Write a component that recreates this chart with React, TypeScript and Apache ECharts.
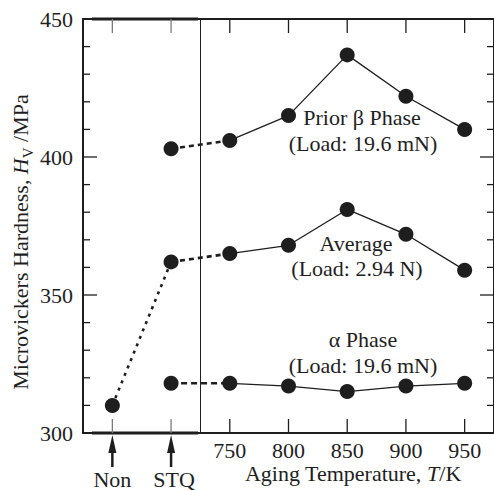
import React, { useEffect, useRef } from "react";
import * as echarts from "echarts";

const categories = ["Non", "STQ", "750", "800", "850", "900", "950"];
const betaPhase: (number | null)[] = [null, 403, 406, 415, 437, 422, 410];
const average: (number | null)[] = [310, 362, 365, 368, 381, 372, 359];
const alphaPhase: (number | null)[] = [null, 318, 318, 317, 315, 317, 318];
const arrowCategories = [0, 1];
const yMin = 300;
const yMax = 450;
const yInterval = 50;
const yMinorStep = 10;

const FONT = '"Liberation Serif", "Times New Roman", serif';
const INK = "#1e1e1e";

function segment(arr: (number | null)[], from: number, to: number) {
  return arr.map((v, i) => (i >= from && i <= to ? v : null));
}

const yTickValues: number[] = [];
for (let v = yMin; v <= yMax; v += yMinorStep) yTickValues.push(v);

export default function App() {
  const ref = useRef<HTMLDivElement>(null);
  useEffect(() => {
    if (!ref.current) return;
    const chart = echarts.init(ref.current, undefined, { renderer: "svg" });

    const solid = (arr: (number | null)[]) => ({
      type: "line",
      data: segment(arr, 2, 6),
      symbol: "none",
      lineStyle: { color: INK, width: 1.3 },
      z: 3,
    });
    const dashed = (arr: (number | null)[], from: number, to: number, dash: number[]) => ({
      type: "line",
      data: segment(arr, from, to),
      symbol: "none",
      lineStyle: { color: INK, width: 2.6, type: dash },
      z: 3,
    });
    const dots = (arr: (number | null)[]) => ({
      type: "scatter",
      data: arr.map((v) => (v === null ? "-" : v)),
      symbol: "circle",
      symbolSize: 15,
      itemStyle: { color: INK, opacity: 1 },
      z: 5,
    });

    const textStyle = (text: string, x: number, y: number) => ({
      type: "text",
      x,
      y,
      style: {
        text,
        fill: INK,
        font: `22px ${FONT}`,
        align: "center",
        verticalAlign: "middle",
      },
      z: 20,
    });

    const baseGraphic: any[] = [
      { type: "rect", shape: { x: 92, y: 17.5, width: 106, height: 3 }, style: { fill: INK }, z: 15 },
      { type: "rect", shape: { x: 92, y: 431.5, width: 106, height: 3 }, style: { fill: INK }, z: 15 },
      textStyle("Prior β Phase", 362, 117),
      textStyle("(Load: 19.6 mN)", 363, 143),
      textStyle("Average", 356, 243),
      textStyle("(Load: 2.94 N)", 357, 268),
      textStyle("α Phase", 363, 339),
      textStyle("(Load: 19.6 mN)", 363, 365),
      {
        type: "text",
        x: 353,
        y: 473,
        style: {
          text: "Aging Temperature, {i|T}/K",
          fill: INK,
          font: `22px ${FONT}`,
          align: "center",
          verticalAlign: "middle",
          rich: {
            i: { fontFamily: FONT, fontSize: 22, fontStyle: "italic", fill: INK },
          },
        },
        z: 20,
      },
      {
        type: "text",
        x: 20,
        y: 242,
        rotation: Math.PI / 2,
        style: {
          text: "Microvickers Hardness, {i|H}{s|V}{n| /MPa}",
          fill: INK,
          font: `22px ${FONT}`,
          align: "center",
          verticalAlign: "middle",
          rich: {
            i: { fontFamily: FONT, fontSize: 22, fontStyle: "italic", fill: INK, lineHeight: 30 },
            s: { fontFamily: FONT, fontSize: 15, fill: INK, verticalAlign: "bottom", lineHeight: 15 },
            n: { fontFamily: FONT, fontSize: 22, fill: INK, lineHeight: 30 },
          },
        },
        z: 20,
      },
    ];

    chart.setOption({
      animation: false,
      grid: { left: 83, top: 19, width: 412, height: 414, containLabel: false },
      xAxis: [
        {
          type: "category",
          data: categories,
          position: "bottom",
          boundaryGap: true,
          axisLine: { show: true, lineStyle: { color: INK, width: 2 } },
          axisTick: { show: false },
          axisLabel: {
            show: true,
            interval: 0,
            color: INK,
            fontFamily: FONT,
            fontSize: 22,
            margin: 6,
            formatter: (v: string, i: number) => (i < 2 ? "" : v),
          },
          splitLine: { show: false },
        },
        {
          type: "category",
          data: categories,
          position: "top",
          boundaryGap: true,
          axisLine: { show: true, lineStyle: { color: INK, width: 2 } },
          axisTick: { show: false },
          axisLabel: { show: false },
          splitLine: { show: false },
        },
        {
          type: "value",
          min: 0,
          max: 7,
          show: false,
        },
      ],
      yAxis: [
        {
          type: "value",
          min: yMin,
          max: yMax,
          interval: yInterval,
          position: "left",
          axisLine: { show: true, lineStyle: { color: INK, width: 2 } },
          axisTick: { show: false },
          minorTick: { show: false },
          axisLabel: { color: INK, fontFamily: FONT, fontSize: 22, margin: 10 },
          splitLine: { show: false },
        },
        {
          type: "value",
          min: yMin,
          max: yMax,
          interval: yInterval,
          position: "right",
          axisLine: { show: true, lineStyle: { color: INK, width: 2 } },
          axisTick: { show: false },
          axisLabel: { show: false },
          splitLine: { show: false },
        },
      ],
      series: [
        solid(betaPhase),
        solid(average),
        solid(alphaPhase),
        dashed(betaPhase, 1, 2, [5, 4]),
        dashed(alphaPhase, 1, 2, [6, 4]),
        dashed(average, 1, 2, [5, 4]),
        dashed(average, 0, 1, [3, 5]),
        dots(betaPhase),
        dots(average),
        dots(alphaPhase),
        {
          type: "custom",
          data: arrowCategories.map((c) => [c, yMin]),
          clip: false,
          z: 10,
          encode: { x: 0, y: 1 },
          renderItem: (params: any, api: any) => {
            const idx = api.value(0);
            const p = api.coord([idx, api.value(1)]);
            return {
              type: "group",
              children: [
                {
                  type: "polygon",
                  shape: {
                    points: [
                      [p[0], p[1] + 2],
                      [p[0] - 4, p[1] + 20],
                      [p[0] + 4, p[1] + 20],
                    ],
                  },
                  style: { fill: INK },
                },
                {
                  type: "line",
                  shape: { x1: p[0], y1: p[1] + 18, x2: p[0], y2: p[1] + 34 },
                  style: { stroke: INK, lineWidth: 2.5 },
                },
                {
                  type: "text",
                  x: p[0] + (idx === 1 ? 3 : 0),
                  y: p[1] + 46,
                  style: {
                    text: categories[idx],
                    fill: INK,
                    font: `22px ${FONT}`,
                    align: "center",
                    verticalAlign: "middle",
                  },
                },
              ],
            };
          },
        },
        {
          type: "line",
          xAxisIndex: 2,
          data: [
            [0, yMin],
            [7, yMin],
          ],
          symbol: "none",
          lineStyle: { opacity: 0 },
          markLine: {
            silent: true,
            symbol: ["none", "none"],
            label: { show: false },
            lineStyle: { color: INK, width: 1, type: "solid" },
            data: [{ xAxis: 2 }],
          },
        },
      ],
      graphic: baseGraphic,
    });

    // Ticks: positions obtained from the chart's own axes
    const tickGraphic: any[] = [];
    const yBottom = chart.convertToPixel({ yAxisIndex: 0 } as any, yMin) as number;
    const yTop = chart.convertToPixel({ yAxisIndex: 0 } as any, yMax) as number;
    const xLeft = chart.convertToPixel({ xAxisIndex: 2 } as any, 0) as number;
    const xRight = chart.convertToPixel({ xAxisIndex: 2 } as any, 7) as number;
    categories.forEach((c, i) => {
      const x = chart.convertToPixel({ xAxisIndex: 0 } as any, c) as number;
      const stroke = i < 2 ? "#7a7a7a" : INK;
      tickGraphic.push({
        type: "line",
        shape: { x1: x, y1: yBottom, x2: x, y2: yBottom - 14 },
        style: { stroke, lineWidth: 1.3 },
        z: 16,
      });
      tickGraphic.push({
        type: "line",
        shape: { x1: x, y1: yTop, x2: x, y2: yTop + 14 },
        style: { stroke, lineWidth: 1.3 },
        z: 16,
      });
    });
    yTickValues.forEach((v) => {
      const y = chart.convertToPixel({ yAxisIndex: 0 } as any, v) as number;
      const len = v % yInterval === 0 ? 14 : 7;
      tickGraphic.push({
        type: "line",
        shape: { x1: xLeft, y1: y, x2: xLeft + len, y2: y },
        style: { stroke: INK, lineWidth: 1.3 },
        z: 16,
      });
      tickGraphic.push({
        type: "line",
        shape: { x1: xRight, y1: y, x2: xRight - len, y2: y },
        style: { stroke: INK, lineWidth: 1.3 },
        z: 16,
      });
    });
    if (tickGraphic.every((g) => isFinite(g.shape.x1) && isFinite(g.shape.y1))) {
      chart.setOption({ graphic: baseGraphic.concat(tickGraphic) });
    }

    return () => chart.dispose();
  }, []);
  return (
    <div
      ref={ref}
      style={{ position: "absolute", left: 0, top: 0, width: 494, height: 490, background: "#fff" }}
    />
  );
}
